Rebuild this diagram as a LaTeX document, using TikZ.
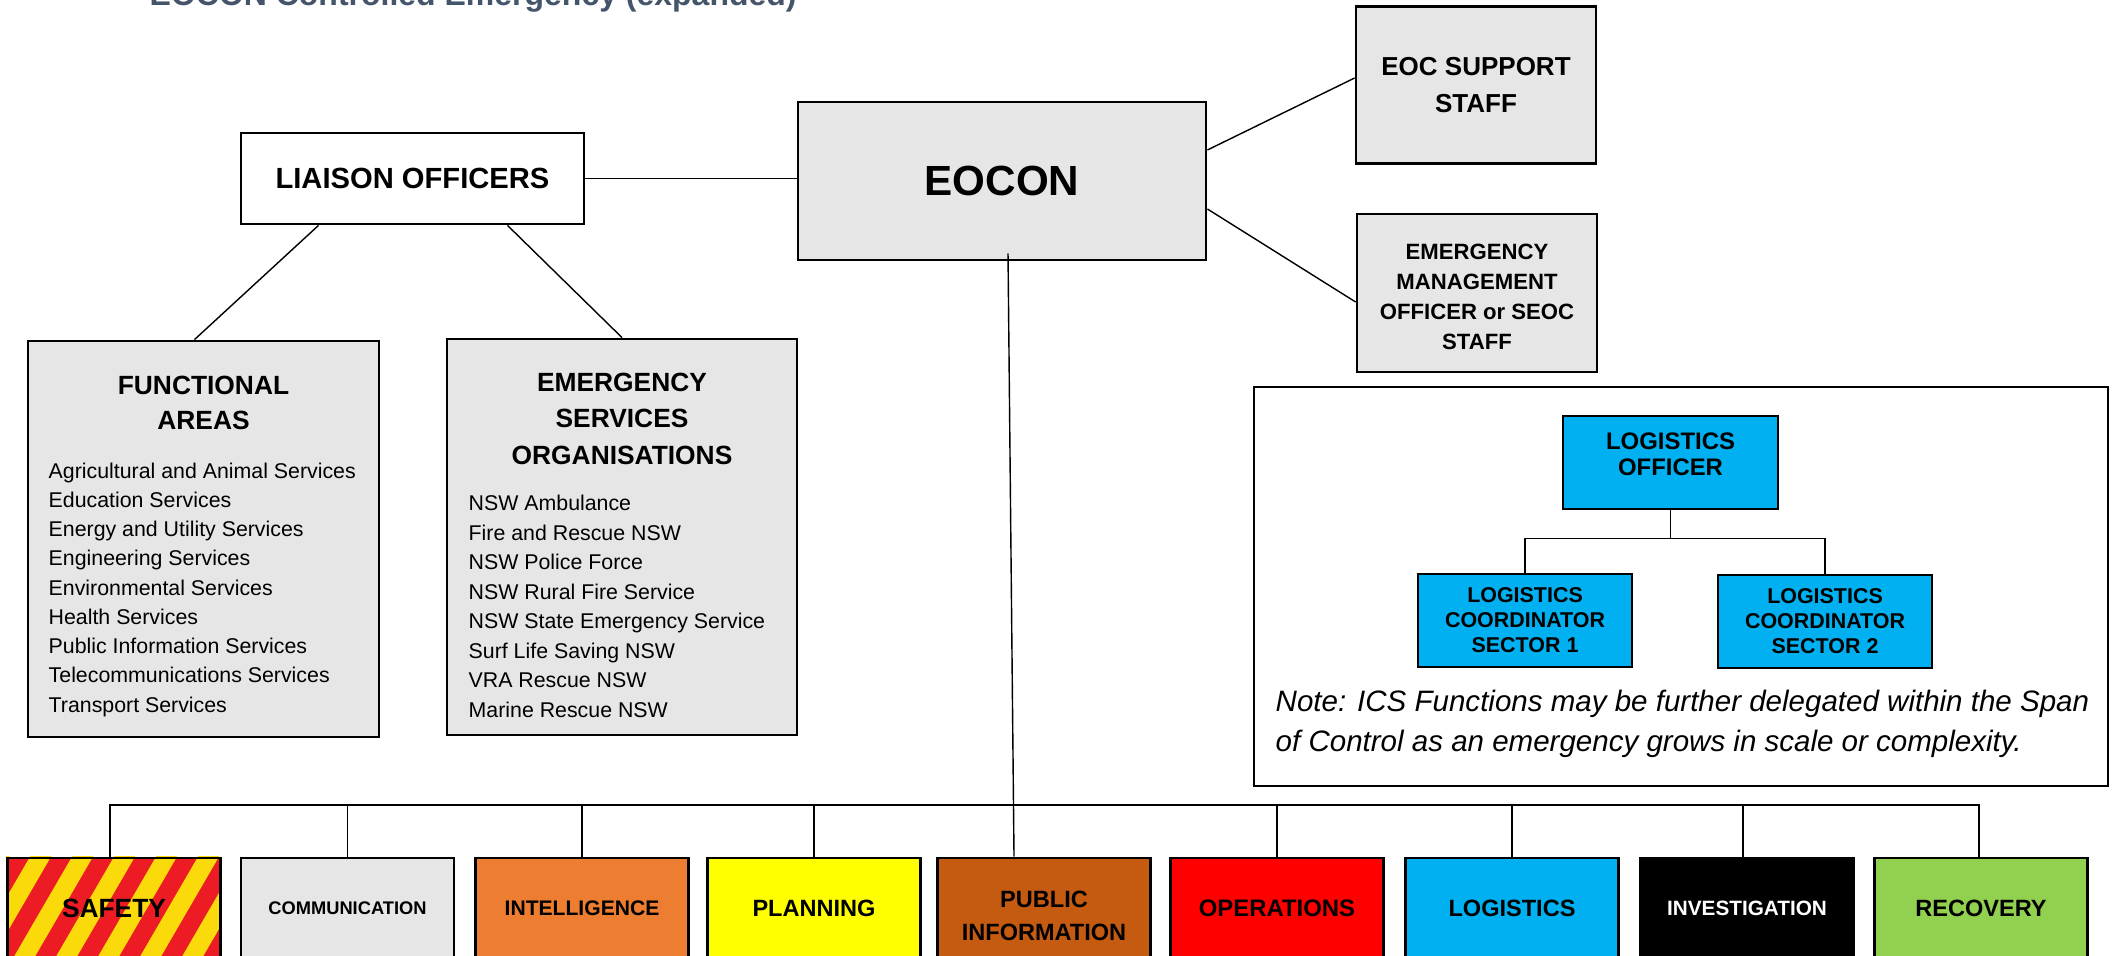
\documentclass[tikz,border=0pt]{standalone}
\usepackage{fontspec}
\setmainfont{Liberation Sans}
\usetikzlibrary{positioning,backgrounds}
\definecolor{boxgrey}{HTML}{E6E6E6}
\definecolor{titleblue}{HTML}{44546A}
\definecolor{safetyred}{HTML}{ED1C24}
\definecolor{safetyyellow}{HTML}{FADA0A}
\definecolor{intelorange}{HTML}{ED7D31}
\definecolor{planyellow}{HTML}{FFFF00}
\definecolor{pubbrown}{HTML}{C55A11}
\definecolor{opsred}{HTML}{FF0000}
\definecolor{logblue}{HTML}{00B0F0}
\definecolor{recgreen}{HTML}{92D050}
\newcommand{\fsize}[2]{\fontsize{#1}{#2}\selectfont}
\tikzset{
  orgbox/.style={rectangle,draw=black,line width=0.8pt,align=center,inner sep=0pt},
  greybox/.style={orgbox,fill=boxgrey},
  unitbox/.style={orgbox,minimum width=2.13cm,minimum height=1.0cm},
  link/.style={draw=black,line width=0.4pt},
  boxtext/.style={align=center,inner sep=0pt},
  listitem/.style={anchor=base west,inner sep=0pt,font=\fsize{6.07}{8.3}},
}

\begin{document}
\begin{tikzpicture}
\useasboundingbox (0,0) rectangle (21.14,9.55);
% \draw[help lines] (0,0) grid (21,9);
\node (title) [anchor=base west,inner sep=0pt,text=titleblue,font=\fsize{9.1}{11}\bfseries] at (1.49,9.49) {EOCON Controlled Emergency (expanded)};
%
\node (eocon) [greybox,minimum width=4.08cm,minimum height=1.58cm,font=\fsize{12}{14}\bfseries] at (10.02,7.74) {EOCON};
\node (liaison) [orgbox,minimum width=3.43cm,minimum height=0.91cm,font=\fsize{8.3}{10}\bfseries] at (4.125,7.765) {LIAISON OFFICERS};
\node (support) [greybox,minimum width=2.40cm,minimum height=1.57cm,font=\fsize{7.4}{10.4}\bfseries] at (14.76,8.70) {EOC SUPPORT\\STAFF};
\node (emo) [greybox,minimum width=2.40cm,minimum height=1.58cm] at (14.77,6.62) {};
\node (emotext) [boxtext,font=\fsize{6.3}{8.6}\bfseries] at ([yshift=-0.04cm]emo.center) {EMERGENCY\\MANAGEMENT\\OFFICER or SEOC\\STAFF};
%
\node (fa) [greybox,minimum width=3.51cm,minimum height=3.96cm] at (2.035,4.16) {};
\node (fatitle) [boxtext,font=\fsize{7.5}{10}\bfseries] at (2.035,5.525) {FUNCTIONAL\\AREAS};
\foreach \entry [count=\i from 0] in {Agricultural and Animal Services,Education Services,Energy and Utility Services,Engineering Services,Environmental Services,Health Services,Public Information Services,Telecommunications Services,Transport Services}
  \node [listitem] at (0.48,{4.77-0.2925*\i}) {\entry};
%
\node (eso) [greybox,minimum width=3.50cm,minimum height=3.96cm] at (6.22,4.18) {};
\node (esotitle) [boxtext,font=\fsize{7.5}{10.4}\bfseries] at (6.22,5.365) {EMERGENCY\\SERVICES\\ORGANISATIONS};
\foreach \entry [count=\i from 0] in {NSW Ambulance,Fire and Rescue NSW,NSW Police Force,NSW Rural Fire Service,NSW State Emergency Service,Surf Life Saving NSW,VRA Rescue NSW,Marine Rescue NSW}
  \node [listitem] at (4.68,{4.445-0.295*\i}) {\entry};
%
\path[link] (liaison.east) edge (liaison.east -| eocon.west);
\path[link] ([xshift=-0.94cm]liaison.south) edge ([xshift=-0.09cm]fa.north);
\path[link] ([xshift=0.95cm]liaison.south) edge (eso.north);
\path[link] ([yshift=0.31cm]eocon.east) edge ([yshift=0.07cm]support.west);
\path[link] ([yshift=-0.28cm]eocon.east) edge ([yshift=-0.09cm]emo.west);
%
% logistics inset
\node (inset) [draw=black,line width=0.6pt,minimum width=8.54cm,minimum height=3.99cm,inner sep=0pt] at (16.81,3.685) {};
\node (logoff) [orgbox,fill=logblue,minimum width=2.15cm,minimum height=0.93cm] at (16.705,4.925) {};
\node (logofftext) [boxtext,font=\fsize{6.8}{7.4}\bfseries] at ([yshift=0.08cm]logoff.center) {LOGISTICS\\OFFICER};
\node (coord1) [orgbox,fill=logblue,minimum width=2.14cm,minimum height=0.93cm,font=\fsize{6.1}{7.1}\bfseries] at (15.25,3.345) {LOGISTICS\\COORDINATOR\\SECTOR 1};
\node (coord2) [orgbox,fill=logblue,minimum width=2.14cm,minimum height=0.93cm,font=\fsize{6.1}{7.1}\bfseries] at (18.25,3.335) {LOGISTICS\\COORDINATOR\\SECTOR 2};
\draw[link] (logoff.south) -- ++(0,-0.28) -| (coord1.north);
\draw[link] (logoff.south) -- ++(0,-0.28) -| (coord2.north);
\node (note) [anchor=north west,align=left,inner sep=0pt,font=\fsize{8.4}{11.4}\itshape] at (12.75,2.655) {Note: ICS Functions may be further delegated within the Span\\of Control as an emergency grows in scale or complexity.};
%
% functions row
\node (safety) [unitbox,font=\fsize{7.5}{9}\bfseries] at (1.14,0.47) {SAFETY};
\begin{scope}[on background layer]
  \clip (safety.south west) rectangle (safety.north east);
  \fill[safetyred] (safety.south west) rectangle (safety.north east);
  \foreach \k in {-3,...,5}
    \fill[safetyyellow] ({0.12+0.42*\k},-0.05) -- ++(0.21,0) -- ++(0.61,1.05) -- ++(-0.21,0) -- cycle;
\end{scope}
\node (comm) [unitbox,fill=boxgrey,font=\fsize{5.2}{7}\bfseries] at (3.475,0.47) {COMMUNICATION};
\node (intel) [unitbox,fill=intelorange,font=\fsize{6.0}{8}\bfseries] at (5.82,0.47) {INTELLIGENCE};
\node (plan) [unitbox,fill=planyellow,font=\fsize{6.7}{8}\bfseries] at (8.14,0.47) {PLANNING};
\node (public) [unitbox,fill=pubbrown] at (10.44,0.47) {};
\node (publictext) [boxtext,font=\fsize{6.7}{9.6}\bfseries] at ([yshift=-0.08cm]public.center) {PUBLIC\\INFORMATION};
\node (ops) [unitbox,fill=opsred,font=\fsize{6.8}{8}\bfseries] at (12.77,0.47) {OPERATIONS};
\node (logs) [unitbox,fill=logblue,font=\fsize{6.7}{8}\bfseries] at (15.12,0.47) {LOGISTICS};
\node (invest) [unitbox,fill=black,text=white,font=\fsize{5.9}{8}\bfseries] at (17.47,0.47) {INVESTIGATION};
\node (recov) [unitbox,fill=recgreen,font=\fsize{6.7}{8}\bfseries] at (19.81,0.47) {RECOVERY};
%
\coordinate (bus) at (0,1.50);
\draw[link] ([xshift=-0.04cm]safety.north) -- ([xshift=-0.04cm]safety.north |- bus) -- ([xshift=-0.02cm]recov.north |- bus) -- ([xshift=-0.02cm]recov.north);
\foreach \unit in {comm,intel,plan,ops,logs}
  \draw[link] (\unit.north) -- (\unit.north |- bus);
\draw[link] ([xshift=-0.04cm]invest.north) -- ([xshift=-0.04cm]invest.north |- bus);
\draw[link] ([xshift=0.06cm,yshift=0.08cm]eocon.south) -- ([xshift=-0.30cm]public.north);
\end{tikzpicture}
\end{document}
